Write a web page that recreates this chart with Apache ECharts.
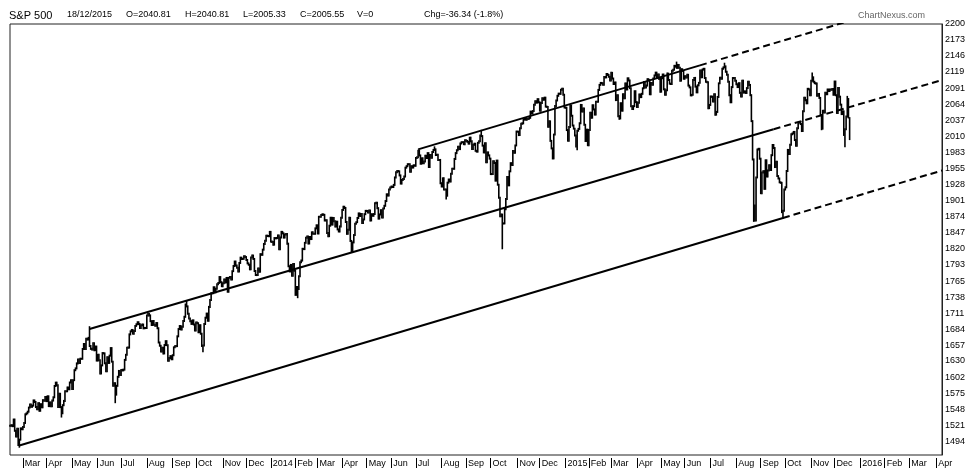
<!DOCTYPE html>
<html>
<head>
<meta charset="utf-8">
<script src="https://cdn.jsdelivr.net/npm/echarts@6/dist/echarts.min.js"></script>
<style>
  html, body { margin: 0; padding: 0; background: #fff; }
  #main { width: 979px; height: 468px; }
</style>
</head>
<body>
<div id="main"></div>
<script>
// trading calendar shown on the x axis
const START = '2013-02-13'
const END = '2016-04-08'
const holidays = [
  '2013-02-18', '2013-03-29', '2013-05-27', '2013-07-04', '2013-09-02', '2013-11-28', '2013-12-25',
  '2014-01-01', '2014-01-20', '2014-02-17', '2014-04-18', '2014-05-26', '2014-07-04', '2014-09-01', '2014-11-27', '2014-12-25',
  '2015-01-01', '2015-01-19', '2015-02-16', '2015-04-03', '2015-05-25', '2015-07-03', '2015-09-07', '2015-11-26', '2015-12-25'
]
const monthNames = ['Jan', 'Feb', 'Mar', 'Apr', 'May', 'Jun', 'Jul', 'Aug', 'Sep', 'Oct', 'Nov', 'Dec']

// S&P 500 daily closes, from 13 Feb 2013
const close2013 = [
  1520.33, 1521.38, 1519.79, 1530.94, 1511.95, 1502.42, 1515.60, 1487.85, 1496.94, 1515.99, 1514.68,
  1518.20, 1525.20, 1539.79, 1541.46, 1544.26, 1551.18, 1556.22, 1552.48, 1554.52, 1563.23, 1560.70, 1552.10, 1548.34, 1558.71, 1545.80, 1556.89, 1551.69, 1563.77, 1562.85, 1569.19,
  1562.17, 1570.25, 1553.69, 1559.98, 1553.28, 1563.07, 1568.61, 1587.73, 1593.37, 1588.85, 1552.36, 1574.57, 1552.01, 1541.61, 1555.25, 1562.50, 1578.78, 1578.79, 1585.16, 1582.24, 1593.61, 1597.57,
  1582.70, 1597.59, 1614.42, 1617.50, 1625.96, 1632.69, 1626.67, 1633.70, 1633.77, 1650.34, 1658.78, 1650.47, 1667.47, 1666.29, 1669.16, 1655.35, 1650.51, 1649.60, 1660.06, 1648.36, 1654.41, 1630.74,
  1640.42, 1631.38, 1608.90, 1622.56, 1643.38, 1642.81, 1626.13, 1612.52, 1636.36, 1626.73, 1639.04, 1651.81, 1628.93, 1588.19, 1592.43, 1573.09, 1588.03, 1603.26, 1613.20, 1606.28,
  1614.96, 1614.08, 1615.41, 1631.89, 1640.46, 1652.32, 1652.62, 1675.02, 1680.19, 1682.50, 1676.26, 1680.91, 1689.37, 1692.09, 1695.53, 1692.39, 1685.94, 1690.25, 1691.65, 1685.33, 1685.96, 1685.73,
  1706.87, 1709.67, 1707.14, 1697.37, 1690.91, 1697.48, 1691.42, 1689.47, 1694.16, 1685.39, 1661.32, 1655.83, 1646.06, 1652.35, 1642.80, 1656.96, 1663.50, 1656.78, 1630.48, 1634.96, 1638.17, 1632.97,
  1639.77, 1653.08, 1655.08, 1655.17, 1671.71, 1683.99, 1689.13, 1683.42, 1687.99, 1697.60, 1704.76, 1725.52, 1722.34, 1709.91, 1701.84, 1697.42, 1692.77, 1698.67, 1691.75, 1681.55,
  1695.00, 1693.87, 1678.66, 1690.50, 1676.12, 1655.45, 1656.40, 1692.56, 1703.20, 1710.14, 1698.06, 1721.54, 1733.15, 1744.50, 1744.66, 1754.67, 1746.38, 1752.07, 1759.77, 1762.11, 1771.95, 1763.31, 1756.54,
  1761.64, 1767.93, 1762.97, 1770.49, 1747.15, 1770.61, 1771.89, 1767.69, 1782.00, 1790.62, 1798.18, 1791.53, 1787.87, 1781.37, 1795.85, 1804.76, 1802.48, 1802.75, 1807.23, 1805.81,
  1800.90, 1795.15, 1792.81, 1785.03, 1805.09, 1808.37, 1802.62, 1782.22, 1775.50, 1775.32, 1786.54, 1781.00, 1810.65, 1809.60, 1818.32, 1827.99, 1833.32, 1842.02, 1841.40, 1841.07, 1848.36
]
const close2014 = [
  1831.98, 1831.37, 1826.77, 1837.88, 1837.49, 1838.13, 1842.37, 1819.20, 1838.88, 1848.38, 1845.89, 1838.70, 1843.80, 1844.86, 1828.46, 1790.29, 1781.56, 1792.50, 1774.20, 1794.19, 1782.59,
  1741.89, 1755.20, 1751.64, 1773.43, 1797.02, 1799.84, 1819.75, 1819.26, 1829.83, 1838.63, 1840.76, 1828.75, 1839.78, 1836.25, 1847.61, 1845.12, 1845.16, 1854.29, 1859.45,
  1845.73, 1873.91, 1873.81, 1877.03, 1878.04, 1877.17, 1867.63, 1868.20, 1846.34, 1841.13, 1858.83, 1872.25, 1860.77, 1872.01, 1866.52, 1857.44, 1865.62, 1852.56, 1849.04, 1857.62, 1872.34,
  1885.52, 1890.90, 1888.77, 1865.09, 1845.04, 1851.96, 1872.18, 1833.08, 1815.69, 1830.61, 1842.98, 1862.31, 1864.85, 1871.89, 1879.55, 1875.39, 1878.61, 1863.40, 1869.43, 1878.33, 1883.95,
  1883.68, 1881.14, 1884.66, 1867.72, 1878.21, 1875.63, 1878.48, 1896.65, 1897.45, 1888.53, 1870.85, 1877.86, 1885.08, 1872.83, 1888.03, 1892.49, 1900.53, 1911.91, 1909.78, 1920.03, 1923.57,
  1924.97, 1924.24, 1927.88, 1940.46, 1949.44, 1951.27, 1950.79, 1943.89, 1930.11, 1936.16, 1937.78, 1941.99, 1956.98, 1959.48, 1962.87, 1962.61, 1949.98, 1959.53, 1957.22, 1960.96, 1960.23,
  1973.32, 1974.62, 1985.44, 1977.65, 1963.71, 1972.83, 1964.68, 1967.57, 1977.10, 1973.28, 1981.57, 1958.12, 1978.22, 1973.63, 1983.53, 1987.01, 1987.98, 1978.34, 1978.91, 1969.95, 1970.07, 1930.67,
  1925.15, 1938.99, 1920.21, 1920.24, 1909.57, 1931.59, 1936.92, 1933.75, 1946.72, 1955.18, 1955.06, 1971.74, 1981.60, 1986.51, 1992.37, 1988.40, 1997.92, 2000.02, 2000.12, 1996.74, 2003.37,
  2002.28, 2000.72, 1997.65, 2007.71, 2001.54, 1988.44, 1995.69, 1997.45, 1985.54, 1984.13, 1998.98, 2001.57, 2011.36, 2010.40, 1994.29, 1982.77, 1998.30, 1965.99, 1982.85, 1977.80, 1972.29,
  1946.16, 1946.17, 1967.90, 1964.82, 1935.10, 1968.89, 1928.21, 1906.13, 1874.74, 1877.70, 1862.49, 1862.76, 1886.76, 1904.01, 1941.28, 1927.11, 1950.82, 1964.58, 1961.63, 1985.05, 1982.30, 1994.65, 2018.05,
  2017.81, 2012.10, 2023.57, 2031.21, 2031.92, 2038.26, 2039.68, 2038.25, 2039.33, 2039.82, 2041.32, 2051.80, 2048.72, 2052.75, 2063.50, 2069.41, 2067.03, 2072.83, 2067.56,
  2053.44, 2066.55, 2074.33, 2071.92, 2075.37, 2060.31, 2059.82, 2026.14, 2035.33, 2002.33, 1989.63, 1972.74, 2012.89, 2061.23, 2070.65, 2078.54, 2082.17, 2081.88, 2088.77, 2090.57, 2080.35, 2058.90
]
const close2015 = [
  2058.20, 2020.58, 2002.61, 2025.90, 2062.14, 2044.81, 2028.26, 2023.03, 2011.27, 1992.67, 2019.42, 2022.55, 2032.12, 2063.15, 2051.82, 2057.09, 2029.55, 2002.16, 2021.25, 1994.99,
  2020.85, 2050.03, 2041.51, 2062.52, 2055.47, 2046.74, 2068.59, 2068.53, 2088.48, 2096.99, 2100.34, 2099.68, 2097.45, 2110.30, 2109.66, 2115.48, 2113.86, 2110.74, 2104.50,
  2117.39, 2107.78, 2098.53, 2101.04, 2071.26, 2079.43, 2044.16, 2040.24, 2065.95, 2053.40, 2081.19, 2074.28, 2099.50, 2089.27, 2108.10, 2104.42, 2091.50, 2061.05, 2056.15, 2061.02, 2086.24, 2067.89,
  2059.69, 2066.96, 2080.62, 2076.33, 2081.90, 2091.18, 2102.06, 2092.43, 2095.84, 2106.63, 2104.99, 2081.18, 2100.40, 2097.29, 2107.96, 2112.93, 2117.69, 2108.92, 2114.76, 2106.85, 2085.51,
  2108.29, 2114.49, 2089.46, 2080.15, 2088.00, 2116.10, 2105.33, 2099.12, 2098.48, 2121.10, 2122.73, 2129.20, 2127.83, 2125.85, 2130.82, 2126.06, 2104.20, 2123.48, 2120.79, 2107.39,
  2111.73, 2109.60, 2114.07, 2095.84, 2092.83, 2079.28, 2080.15, 2105.20, 2108.86, 2094.11, 2084.43, 2096.29, 2100.44, 2121.24, 2109.99, 2122.85, 2124.20, 2108.58, 2102.31, 2101.49, 2057.64, 2063.11,
  2077.42, 2076.78, 2068.76, 2081.34, 2046.68, 2051.31, 2076.62, 2099.60, 2108.95, 2107.40, 2124.29, 2126.64, 2128.28, 2119.21, 2114.15, 2102.15, 2079.65, 2067.64, 2093.25, 2108.57, 2108.63, 2103.84,
  2098.04, 2093.32, 2099.84, 2083.56, 2077.57, 2104.18, 2084.07, 2086.05, 2083.39, 2091.54, 2102.44, 2096.92, 2079.61, 2035.73, 1970.89, 1893.21, 1867.61, 1940.51, 1987.66, 1988.87, 1972.18,
  1913.85, 1948.86, 1951.13, 1921.22, 1969.41, 1942.04, 1952.29, 1961.05, 1953.03, 1978.09, 1995.31, 1990.20, 1958.03, 1966.97, 1942.74, 1938.76, 1932.24, 1931.34, 1881.77, 1884.09, 1920.03,
  1923.82, 1951.36, 1987.05, 1979.92, 1995.83, 2013.43, 2014.89, 2017.46, 2003.69, 1994.24, 2023.86, 2033.11, 2033.66, 2030.77, 2018.94, 2052.51, 2075.15, 2071.18, 2065.89, 2090.35, 2089.41, 2079.36,
  2104.05, 2109.79, 2102.31, 2099.93, 2099.20, 2078.58, 2081.72, 2075.00, 2045.97, 2023.04, 2053.19, 2050.44, 2083.58, 2081.24, 2089.17, 2086.59, 2089.14, 2088.87, 2090.11, 2080.41,
  2102.63, 2079.51, 2049.62, 2091.69, 2077.07, 2063.59, 2047.62, 2052.23, 2012.37, 2021.94, 2043.41, 2073.07, 2041.89, 2005.55
]

// intraday extremes of the days whose bars stick out
const spikeLows = [
  ['2013-02-26', 1485.01], ['2013-04-18', 1536.03], ['2013-06-24', 1560.33], ['2013-10-09', 1646.47],
  ['2014-02-05', 1737.92], ['2014-04-11', 1814.36], ['2014-08-07', 1904.78], ['2014-10-15', 1820.66],
  ['2014-12-16', 1972.56], ['2015-01-16', 1988.12], ['2015-03-11', 2039.69], ['2015-08-24', 1867.01],
  ['2015-09-29', 1871.91], ['2015-11-13', 2022.02], ['2015-12-14', 1993.26]
]
const spikeHighs = [
  ['2013-05-22', 1687.18], ['2013-08-02', 1709.67], ['2013-09-19', 1729.86], ['2014-07-24', 1991.39],
  ['2014-09-19', 2019.26], ['2015-05-20', 2134.72], ['2015-07-20', 2132.82], ['2015-11-03', 2116.48],
  ['2015-12-16', 2076.72]
]

// last bar shown in the header
const lastBar = { date: '18/12/2015', open: 2040.81, high: 2040.81, low: 2005.33, close: 2005.55, volume: 0, chg: -36.34, chgPct: -1.8 }

// trend lines: solid from first to second anchor, dashed beyond
const lowerLine = [['2013-02-26', 1487], ['2015-09-29', 1872]]
const middleLine = [['2013-05-22', 1684], ['2015-09-17', 2022]]
const upperLine = [['2014-07-03', 1988], ['2015-06-18', 2130]]

const yTicks = [2200, 2173, 2146, 2119, 2091, 2064, 2037, 2010, 1983, 1955, 1928, 1901, 1874, 1847,
  1820, 1793, 1765, 1738, 1711, 1684, 1657, 1630, 1602, 1575, 1548, 1521, 1494]

function tradingDays() {
  const out = []
  const d = new Date(START + 'T00:00:00Z')
  const end = new Date(END + 'T00:00:00Z')
  while (d <= end) {
    const wd = d.getUTCDay()
    const s = d.toISOString().slice(0, 10)
    if (wd !== 0 && wd !== 6 && holidays.indexOf(s) < 0) out.push(s)
    d.setUTCDate(d.getUTCDate() + 1)
  }
  return out
}

const days = tradingDays()
const closes = close2013.concat(close2014, close2015)

function isMonthStart(i) {
  if (i === 0) return false
  return days[i].slice(5, 7) !== days[i - 1].slice(5, 7)
}

function buildBars() {
  const lows = {}
  const highs = {}
  spikeLows.forEach(function (p) { lows[p[0]] = p[1] })
  spikeHighs.forEach(function (p) { highs[p[0]] = p[1] })
  const bars = []
  for (let i = 0; i < closes.length; i++) {
    const d = days[i]
    const open = i > 0 ? closes[i - 1] : closes[i]
    let lo = Math.min(open, closes[i])
    let hi = Math.max(open, closes[i])
    if (i === closes.length - 1) {
      lo = Math.min(lo, lastBar.low)
      hi = Math.max(lastBar.high, closes[i])
    }
    if (lows[d] !== undefined) lo = Math.min(lo, lows[d])
    if (highs[d] !== undefined) hi = Math.max(hi, highs[d])
    bars.push([d, lo, hi])
  }
  return bars
}

function trendParts(anchor) {
  const i1 = days.indexOf(anchor[0][0])
  const i2 = days.indexOf(anchor[1][0])
  const slope = (anchor[1][1] - anchor[0][1]) / (i2 - i1)
  const last = days.length - 1
  const ext = anchor[1][1] + slope * (last - i2)
  return {
    solid: [anchor[0], anchor[1]],
    dashed: [anchor[1], [days[last], ext]]
  }
}

function trendSeries(anchor) {
  const p = trendParts(anchor)
  return [
    {
      type: 'line', data: p.solid, symbol: 'none', silent: true, clip: true,
      lineStyle: { color: '#000', width: 2 }
    },
    {
      type: 'line', data: p.dashed, symbol: 'none', silent: true, clip: true,
      lineStyle: { color: '#000', width: 2, type: [7, 4] }
    }
  ]
}

const font = 'Liberation Sans, Arial, sans-serif'

function headerText(x, text, size) {
  return {
    type: 'text', left: x, top: 10,
    style: { text: text, fontSize: size, fontFamily: font, fill: '#000' }
  }
}

const chart = echarts.init(document.getElementById('main'))

const option = {
  animation: false,
  backgroundColor: '#fff',
  grid: {
    left: 10, right: 37, top: 24, bottom: 13,
    show: true, borderColor: '#222', borderWidth: 1, backgroundColor: '#fff'
  },
  xAxis: {
    type: 'category',
    data: days,
    boundaryGap: false,
    offset: 3,
    axisLine: { show: false },
    axisTick: {
      show: true, length: 10, interval: isMonthStart,
      lineStyle: { color: '#000', width: 1 }
    },
    axisLabel: {
      interval: isMonthStart,
      align: 'left',
      margin: 1,
      padding: [0, 0, 0, 2],
      fontSize: 9,
      fontFamily: font,
      color: '#000',
      formatter: function (v) {
        const m = parseInt(v.slice(5, 7), 10)
        return m === 1 ? v.slice(0, 4) : monthNames[m - 1]
      }
    },
    splitLine: { show: false }
  },
  yAxis: {
    type: 'value',
    position: 'right',
    min: 1471,
    max: 2200,
    axisLine: { show: true, lineStyle: { color: '#222' } },
    axisTick: { show: false },
    splitLine: { show: false },
    axisLabel: {
      customValues: yTicks,
      fontSize: 9,
      fontFamily: font,
      color: '#000',
      margin: 3,
      formatter: function (v) { return String(Math.round(v)) }
    }
  },
  graphic: [
    headerText(9, 'S&P 500', 11),
    headerText(67, lastBar.date, 9),
    headerText(126, 'O=' + lastBar.open.toFixed(2), 9),
    headerText(185, 'H=' + lastBar.high.toFixed(2), 9),
    headerText(243, 'L=' + lastBar.low.toFixed(2), 9),
    headerText(300, 'C=' + lastBar.close.toFixed(2), 9),
    headerText(357, 'V=' + lastBar.volume, 9),
    headerText(424, 'Chg=' + lastBar.chg.toFixed(2) + ' (' + lastBar.chgPct.toFixed(1) + '%)', 9),
    {
      type: 'text', right: 54, top: 11,
      style: { text: 'ChartNexus.com', fontSize: 9, fontFamily: font, fill: '#666' }
    }
  ],
  series: [
    {
      type: 'custom',
      name: 'S&P 500',
      data: buildBars(),
      encode: { x: 0, y: [1, 2] },
      silent: true,
      renderItem: function (params, api) {
        const a = api.coord([api.value(0), api.value(1)])
        const b = api.coord([api.value(0), api.value(2)])
        return {
          type: 'line',
          shape: { x1: a[0], y1: a[1] + 1, x2: b[0], y2: b[1] - 1 },
          style: { stroke: '#000', lineWidth: 1.6 }
        }
      }
    }
  ].concat(trendSeries(lowerLine), trendSeries(middleLine), trendSeries(upperLine))
}

chart.setOption(option)
</script>
</body>
</html>
